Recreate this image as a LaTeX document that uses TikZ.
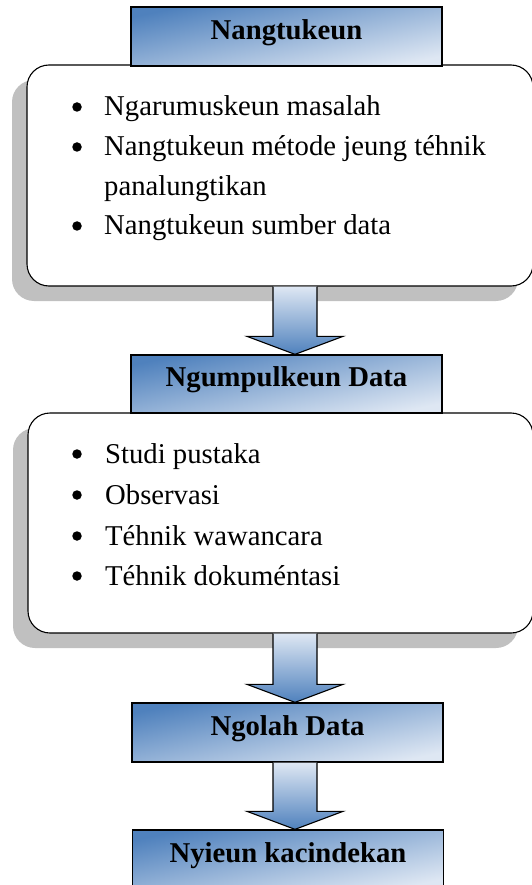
\documentclass[tikz,border=0pt]{standalone}
\usepackage{fontspec}
\setmainfont{Liberation Serif}
\usetikzlibrary{calc,shadows}
\definecolor{dkblue}{RGB}{79,129,189}
\definecolor{ltblue}{RGB}{222,231,243}
\definecolor{shgray}{RGB}{192,192,192}
\tikzset{
 titlebox/.style={draw=black, line width=1.3pt, top color=dkblue, bottom color=ltblue, shading angle=12,
   minimum width=311pt, minimum height=59pt, inner sep=0pt,
   font=\fontsize{28.7}{34}\selectfont\bfseries, text height=0.75em, text depth=0.2em},
 roundbox/.style={draw=black, line width=1.1pt, fill=white, rounded corners=22pt, inner sep=0pt,
   drop shadow={shadow xshift=-15pt, shadow yshift=-15pt, fill=shgray, opacity=1}},
 itemtext/.style={anchor=base west, inner sep=0pt, font=\fontsize{28.7}{34}\selectfont},
 bulletdot/.style={circle, fill=black, draw=none, minimum size=9.5pt, inner sep=0pt},
 blockarrow/.style={draw=black, line width=1.1pt, top color=ltblue, bottom color=dkblue},
}
\newcommand{\myarrow}[2]{%
 \path[blockarrow] ($(ax |- #1)+(-22,0)$) -- ($(ax |- #2)+(-22,-18)$) -- ($(ax |- #2)+(-48,-18)$)
   -- (ax |- #2) -- ($(ax |- #2)+(48,-18)$) -- ($(ax |- #2)+(22,-18)$) -- ($(ax |- #1)+(22,0)$);}
\begin{document}
\begin{tikzpicture}[x=1pt,y=-1pt]
\useasboundingbox (0,0) rectangle (532,885);
\clip (0,0) rectangle (532,885);
\coordinate (ax) at (295,0);

% box 1
\node[roundbox, minimum width=506pt, minimum height=221pt] (r1) at (280,175.5) {};
\node[titlebox] (t1) at (286.5,36.5) {Nangtukeun};
\node[bulletdot] (b11) at (77,107) {};
\node[itemtext] (i11) at (104,116) {Ngarumuskeun masalah};
\node[bulletdot] (b12) at (77,147) {};
\node[itemtext] (i12) at (104,156) {Nangtukeun métode jeung téhnik};
\node[itemtext] (i13) at (104,196) {panalungtikan};
\node[bulletdot] (b14) at (77,226) {};
\node[itemtext] (i14) at (104,235) {Nangtukeun sumber data};

% box 2
\node[roundbox, minimum width=505pt, minimum height=220pt] (r2) at (280.5,523) {};
\node[titlebox, minimum height=58pt] (t2) at (286.5,384) {Ngumpulkeun Data};
\node[bulletdot] (b21) at (77,454) {};
\node[itemtext] (i21) at (105,463) {Studi pustaka};
\node[bulletdot] (b22) at (77,495) {};
\node[itemtext] (i22) at (105,504) {Observasi};
\node[bulletdot] (b23) at (77,536) {};
\node[itemtext] (i23) at (105,545) {Téhnik wawancara};
\node[bulletdot] (b24) at (77,576) {};
\node[itemtext] (i24) at (105,585) {Téhnik dokuméntasi};

% boxes 3, 4
\node[titlebox] (t3) at (287.5,732.5) {Ngolah Data};
\node[titlebox] (t4) at (288,859.5) {Nyieun kacindekan};

% arrows
\myarrow{r1.south}{t2.north}
\myarrow{r2.south}{t3.north}
\myarrow{t3.south}{t4.north}
\end{tikzpicture}
\end{document}
